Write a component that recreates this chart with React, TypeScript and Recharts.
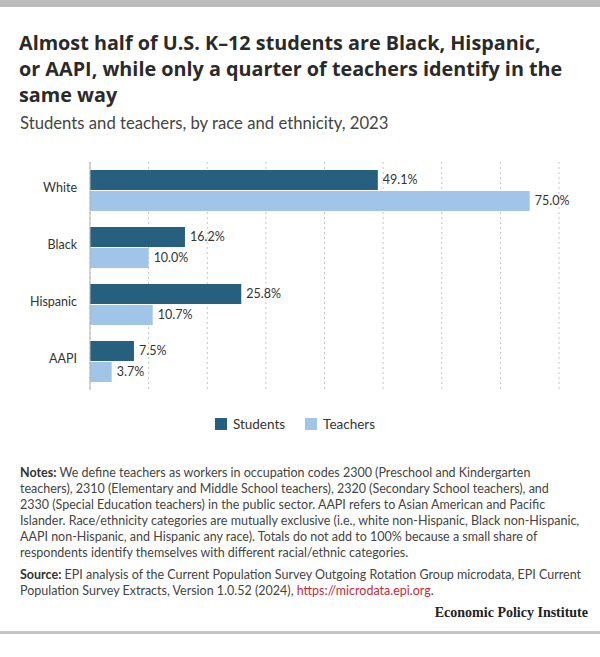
import { BarChart, Bar, XAxis, YAxis, CartesianGrid, Legend, LabelList } from "recharts";

const categories = ["White", "Black", "Hispanic", "AAPI"];
const students = [49.1, 16.2, 25.8, 7.5];
const teachers = [75.0, 10.0, 10.7, 3.7];
const xTicks = [0, 10, 20, 30, 40, 50, 60, 70, 80];

const STUDENT_COLOR = "#27607f";
const TEACHER_COLOR = "#a1c5e8";
const FONT = "Lato, 'Open Sans', sans-serif";

const data = categories.map((name, i) => ({
  name,
  Students: students[i],
  Teachers: teachers[i],
}));

const pct = (v: any) => `${Number(v).toFixed(1)}%`;

function CategoryTick(props: any) {
  const { x, y, payload } = props;
  return (
    <text x={x + 1} y={y - 3} dy="0.355em" textAnchor="end" fontSize={12.5} fill="#333" fontFamily={FONT}>
      {payload.value}
    </text>
  );
}

function LegendContent(props: any) {
  const { payload } = props;
  return (
    <div style={{ paddingTop: 24, display: "flex", justifyContent: "center", gap: 20, fontFamily: FONT }}>
      {payload.map((p: any) => (
        <div key={p.value} style={{ display: "flex", alignItems: "center", fontSize: 13.5, color: "#333", lineHeight: "20px" }}>
          <span style={{ display: "inline-block", width: 12, height: 12, background: p.color, marginRight: 6 }} />
          {p.value}
        </div>
      ))}
    </div>
  );
}

export default function App() {
  return (
    <div style={{ position: "absolute", left: 0, top: 0, width: 600, height: 657, background: "#fff", fontFamily: FONT, color: "#222" }}>
      <div style={{ position: "absolute", left: 0, top: 0, width: 600, height: 7, background: "#bcbcbc" }} />
      <div style={{ position: "absolute", left: 19, top: 30, fontFamily: "'Open Sans', sans-serif", fontSize: 19.8, fontWeight: 700, lineHeight: "26px", color: "#2a2a2a", whiteSpace: "nowrap" }}>
        <div>Almost half of U.S. K–12 students are Black, Hispanic,</div>
        <div>or AAPI, while only a quarter of teachers identify in the</div>
        <div>same way</div>
      </div>
      <div style={{ position: "absolute", left: 20, top: 112, fontSize: 16.7, lineHeight: "22px", color: "#444" }}>
        Students and teachers, by race and ethnicity, 2023
      </div>

      <div style={{ position: "absolute", left: 0, top: 150 }}>
        <BarChart
          width={600}
          height={290}
          data={data}
          layout="vertical"
          margin={{ top: 12, right: 41, bottom: 6, left: 0 }}
          barCategoryGap="14%"
          barGap={1}
        >
          <CartesianGrid horizontal={false} stroke="#c4c4c4" strokeDasharray="2 3" />
          <XAxis type="number" domain={[0, 80]} ticks={xTicks} hide />
          <YAxis
            type="category"
            dataKey="name"
            width={90}
            tickLine={false}
            axisLine={{ stroke: "#b3b3b3" }}
            tickMargin={8}
            tick={<CategoryTick />}
          />
          <Legend verticalAlign="bottom" content={<LegendContent />} wrapperStyle={{ left: 15, width: 560 }} />
          <Bar dataKey="Students" fill={STUDENT_COLOR} isAnimationActive={false}>
            <LabelList dataKey="Students" position="right" offset={5} formatter={pct} fontSize={12.5} fill="#333" fontFamily={FONT} />
          </Bar>
          <Bar dataKey="Teachers" fill={TEACHER_COLOR} isAnimationActive={false}>
            <LabelList dataKey="Teachers" position="right" offset={5} formatter={pct} fontSize={12.5} fill="#333" fontFamily={FONT} />
          </Bar>
        </BarChart>
      </div>

      <div style={{ position: "absolute", left: 20, top: 465, fontSize: 12.5, lineHeight: "16px", color: "#444", whiteSpace: "nowrap" }}>
        <div><b style={{ color: "#333" }}>Notes:</b> We define teachers as workers in occupation codes 2300 (Preschool and Kindergarten</div>
        <div>teachers), 2310 (Elementary and Middle School teachers), 2320 (Secondary School teachers), and</div>
        <div>2330 (Special Education teachers) in the public sector. AAPI refers to Asian American and Pacific</div>
        <div>Islander. Race/ethnicity categories are mutually exclusive (i.e., white non-Hispanic, Black non-Hispanic,</div>
        <div>AAPI non-Hispanic, and Hispanic any race). Totals do not add to 100% because a small share of</div>
        <div>respondents identify themselves with different racial/ethnic categories.</div>
        <div style={{ marginTop: 6 }}><b style={{ color: "#333" }}>Source:</b> EPI analysis of the Current Population Survey Outgoing Rotation Group microdata, EPI Current</div>
        <div>Population Survey Extracts, Version 1.0.52 (2024), <span style={{ color: "#c8283c" }}>https://microdata.epi.org</span>.</div>
      </div>

      <div style={{ position: "absolute", right: 12, top: 605, fontSize: 14, fontWeight: 700, fontFamily: "'Liberation Serif', 'DejaVu Serif', serif", color: "#222" }}>
        Economic Policy Institute
      </div>
      <div style={{ position: "absolute", left: 0, top: 631, width: 600, height: 3, background: "#c4c4c4" }} />
    </div>
  );
}
